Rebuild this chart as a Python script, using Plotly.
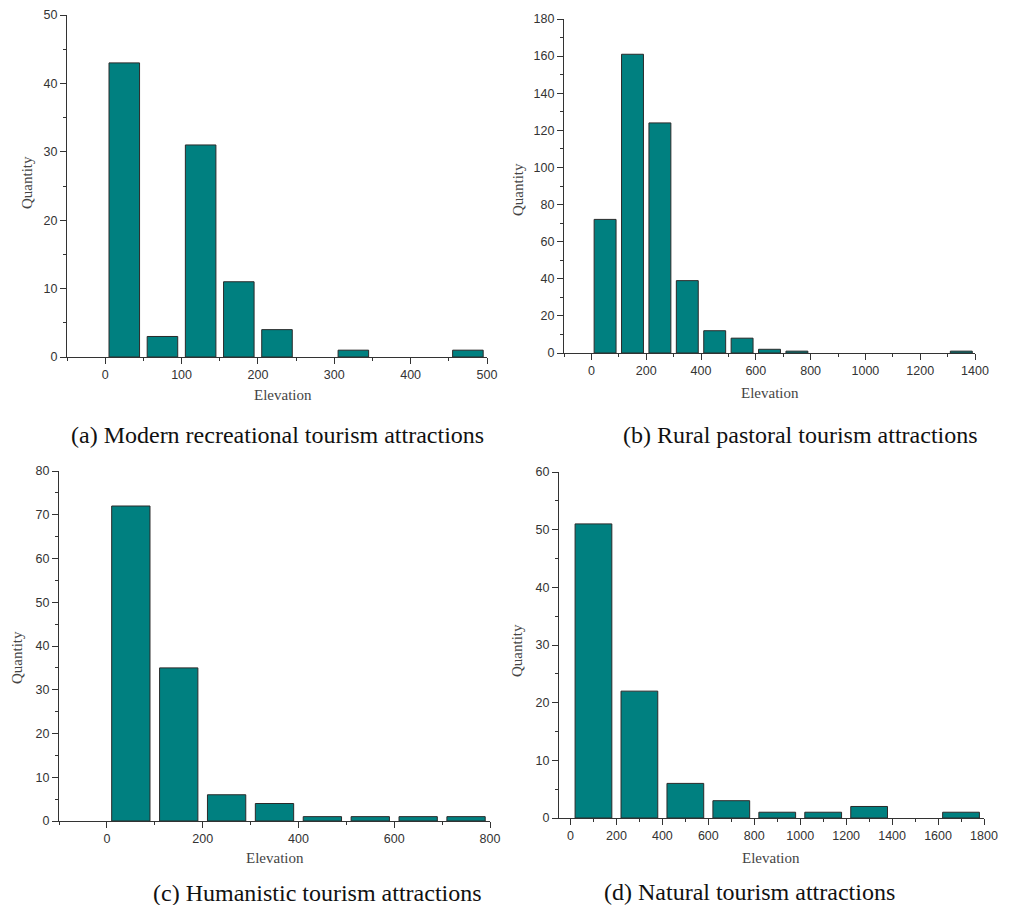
import plotly.graph_objects as go

# ---- data ----
a_centers = [25, 75, 125, 175, 225, 275, 325, 375, 425, 475]
a_counts = [43, 3, 31, 11, 4, 0, 1, 0, 0, 1]

b_centers = [50, 150, 250, 350, 450, 550, 650, 750, 850, 950, 1050, 1150, 1250, 1350]
b_counts = [72, 161, 124, 39, 12, 8, 2, 1, 0, 0, 0, 0, 0, 1]

c_centers = [50, 150, 250, 350, 450, 550, 650, 750]
c_counts = [72, 35, 6, 4, 1, 1, 1, 1]

d_centers = [100, 300, 500, 700, 900, 1100, 1300, 1500, 1700]
d_counts = [51, 22, 6, 3, 1, 1, 2, 0, 1]

captions = ["(a) Modern recreational tourism attractions",
            "(b) Rural pastoral tourism attractions",
            "(c) Humanistic tourism attractions",
            "(d) Natural tourism attractions"]

W, H = 1014, 905
BAR = "#008080"
EDGE = "#2a2a2a"
AX = "#333333"

panels = [
    dict(x=a_centers, y=a_counts, w=50, px=(67, 487), py=(15, 357),
         xr=[-50, 500], xd=100, xm=50, yr=[0, 50], yd=10, ym=5,
         cap=(277, 435), xt=(283, 395), yt=(27, 183)),
    dict(x=b_centers, y=b_counts, w=100, px=(564, 975), py=(19, 353),
         xr=[-100, 1400], xd=200, xm=100, yr=[0, 180], yd=20, ym=10,
         cap=(800, 435), xt=(770, 393), yt=(518, 190)),
    dict(x=c_centers, y=c_counts, w=100, px=(59, 490), py=(471, 821),
         xr=[-100, 800], xd=200, xm=100, yr=[0, 80], yd=10, ym=5,
         cap=(317, 893), xt=(275, 858), yt=(17, 658)),
    dict(x=d_centers, y=d_counts, w=200, px=(559, 984), py=(472, 818),
         xr=[-50, 1800], xd=200, xm=100, yr=[0, 60], yd=10, ym=5,
         cap=(749, 892), xt=(771, 858), yt=(517, 651)),
]

fig = go.Figure()
layout = {}
annotations = []
for i, p in enumerate(panels):
    k = "" if i == 0 else str(i + 1)
    xs = [c for c, v in zip(p["x"], p["y"]) if v > 0]
    ys = [v for v in p["y"] if v > 0]
    fig.add_trace(go.Bar(
        x=xs, y=ys, width=[p["w"] * 0.8] * len(xs),
        marker=dict(color=BAR, line=dict(color=EDGE, width=1)),
        xaxis="x" + k, yaxis="y" + k, showlegend=False,
    ))
    x0, x1 = p["px"]
    y0, y1 = p["py"]
    common = dict(
        ticks="outside", ticklen=6, tickwidth=1, tickcolor=AX,
        showline=True, linecolor=AX, linewidth=1.2,
        showgrid=False, zeroline=False, automargin=False,
        tickfont=dict(family="Liberation Sans", size=12.5, color="#333"),
    )
    layout["xaxis" + k] = dict(
        domain=[x0 / W, x1 / W], anchor="y" + k, range=p["xr"],
        dtick=p["xd"], tick0=0,
        minor=dict(dtick=p["xm"], tick0=0, ticks="outside", ticklen=3,
                   tickcolor=AX, showgrid=False),
        **common,
    )
    layout["yaxis" + k] = dict(
        domain=[1 - y1 / H, 1 - y0 / H], anchor="x" + k, range=p["yr"],
        dtick=p["yd"], tick0=0,
        minor=dict(dtick=p["ym"], ticks="outside", ticklen=3,
                   tickcolor=AX, showgrid=False),
        **common,
    )
    annotations.append(dict(
        x=p["cap"][0] / W, y=1 - p["cap"][1] / H, xref="paper", yref="paper",
        text=captions[i], showarrow=False, xanchor="center", yanchor="middle",
        font=dict(family="Liberation Serif", size=24, color="#111"),
    ))
    annotations.append(dict(
        x=p["xt"][0] / W, y=1 - p["xt"][1] / H, xref="paper", yref="paper",
        text="Elevation", showarrow=False, xanchor="center", yanchor="middle",
        font=dict(family="Liberation Serif", size=15, color="#444"),
    ))
    annotations.append(dict(
        x=p["yt"][0] / W, y=1 - p["yt"][1] / H, xref="paper", yref="paper",
        text="Quantity", showarrow=False, xanchor="center", yanchor="middle",
        textangle=-90,
        font=dict(family="Liberation Serif", size=15, color="#444"),
    ))

fig.update_layout(
    template="none",
    width=W, height=H, margin=dict(l=0, r=0, t=0, b=0, autoexpand=False),
    paper_bgcolor="white", plot_bgcolor="white",
    annotations=annotations, **layout,
)
fig.write_html(
    "out.html",
    config={"displayModeBar": False},
    post_script="document.body.style.margin='0';document.body.style.overflow='hidden';",
)
